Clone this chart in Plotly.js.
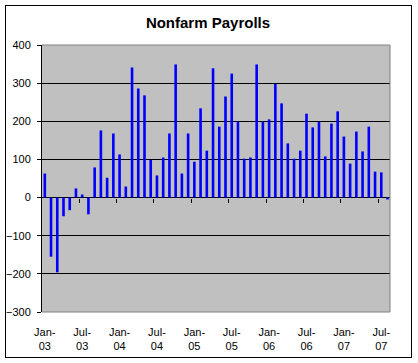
<!DOCTYPE html>
<html>
<head>
<meta charset="utf-8">
<script src="https://cdn.plot.ly/plotly-3.0.1.min.js"></script>
<style>
  html, body { margin: 0; padding: 0; background: #ffffff; }
  #wrap { position: relative; width: 418px; height: 363px; }
  #chart { width: 418px; height: 363px; }
  #frame { position: absolute; left: 5px; top: 5px; width: 407px; height: 353px;
           box-sizing: border-box; border: 1px solid #000; pointer-events: none; }
</style>
</head>
<body>
<div id="wrap">
  <div id="chart"></div>
  <div id="frame"></div>
</div>
<script>
const months = [
  "Jan-03","Feb-03","Mar-03","Apr-03","May-03","Jun-03","Jul-03","Aug-03","Sep-03","Oct-03","Nov-03","Dec-03",
  "Jan-04","Feb-04","Mar-04","Apr-04","May-04","Jun-04","Jul-04","Aug-04","Sep-04","Oct-04","Nov-04","Dec-04",
  "Jan-05","Feb-05","Mar-05","Apr-05","May-05","Jun-05","Jul-05","Aug-05","Sep-05","Oct-05","Nov-05","Dec-05",
  "Jan-06","Feb-06","Mar-06","Apr-06","May-06","Jun-06","Jul-06","Aug-06","Sep-06","Oct-06","Nov-06","Dec-06",
  "Jan-07","Feb-07","Mar-07","Apr-07","May-07","Jun-07","Jul-07","Aug-07"
];
const payrolls = [
  63, -155, -196, -49, -33, 24, 8, -44, 79, 176, 52, 168,
  113, 29, 341, 286, 268, 99, 58, 105, 168, 349, 63, 168,
  94, 234, 123, 339, 186, 265, 325, 199, 102, 105, 349, 199,
  205, 298, 247, 142, 102, 123, 220, 184, 198, 108, 194, 226,
  160, 89, 173, 121, 186, 68, 66, -5
];
const tickMonths = ["Jan-03","Jul-03","Jan-04","Jul-04","Jan-05","Jul-05","Jan-06","Jul-06","Jan-07","Jul-07"];
const tickText = ["Jan-<br>03","Jul-<br>03","Jan-<br>04","Jul-<br>04","Jan-<br>05","Jul-<br>05","Jan-<br>06","Jul-<br>06","Jan-<br>07","Jul-<br>07"];
const yTicks = [-300, -200, -100, 0, 100, 200, 300, 400];

const FONT = "Arial, 'Liberation Sans', sans-serif";
const xRange = [-0.45, 55.4];
const tickIdx = tickMonths.map(m => months.indexOf(m));
const boundaryTicks = tickIdx.slice(1).map(i => i - 0.5);

const trace = {
  type: 'bar',
  x: months,
  y: payrolls,
  width: 0.42,
  marker: { color: '#0000ff', line: { width: 0 } },
  hoverinfo: 'x+y'
};

const layout = {
  width: 418, height: 363,
  margin: { l: 42, r: 28, t: 45, b: 51, pad: 0 },
  paper_bgcolor: '#ffffff',
  plot_bgcolor: '#c0c0c0',
  showlegend: false,
  font: { family: FONT, size: 11, color: '#000' },
  title: {
    text: '<b>Nonfarm Payrolls</b>',
    font: { family: FONT, size: 15, color: '#000' },
    xref: 'container', yref: 'container',
    x: 0.4976, y: 0.937, xanchor: 'center', yanchor: 'middle'
  },
  xaxis: {
    type: 'category',
    range: xRange,
    tickmode: 'array',
    tickvals: tickMonths,
    ticktext: tickText,
    ticks: '',
    ticklabelstandoff: 12,
    showgrid: false,
    showline: false,
    zeroline: false,
    tickangle: 0,
    tickfont: { family: FONT, size: 11, color: '#000' }
  },
  xaxis2: {
    overlaying: 'x',
    anchor: 'free',
    position: 3 / 7,
    range: xRange,
    tickmode: 'array',
    tickvals: boundaryTicks,
    ticks: 'outside',
    ticklen: 4,
    tickwidth: 1,
    tickcolor: '#000',
    showticklabels: false,
    showgrid: false,
    showline: false,
    zeroline: false
  },
  yaxis: {
    range: [-300, 400],
    tickmode: 'array',
    tickvals: yTicks,
    ticks: 'outside',
    ticklen: 4,
    tickwidth: 1,
    tickcolor: '#000',
    ticklabelstandoff: 4,
    showline: true,
    linecolor: '#000',
    linewidth: 1,
    showgrid: true,
    gridcolor: '#000',
    gridwidth: 1,
    zeroline: true,
    zerolinecolor: '#000',
    zerolinewidth: 1,
    tickfont: { family: FONT, size: 11, color: '#000' }
  },
  shapes: [{
    type: 'path',
    xref: 'paper', yref: 'paper',
    path: 'M 0 1 L 1 1 L 1 0 L 0 0',
    line: { color: '#808080', width: 1 },
    layer: 'above'
  }]
};

const trace2 = { type: 'scatter', x: [xRange[0]], y: [null], xaxis: 'x2', yaxis: 'y', hoverinfo: 'skip', showlegend: false };

Plotly.newPlot('chart', [trace, trace2], layout, { displayModeBar: false, staticPlot: true });
</script>
</body>
</html>
